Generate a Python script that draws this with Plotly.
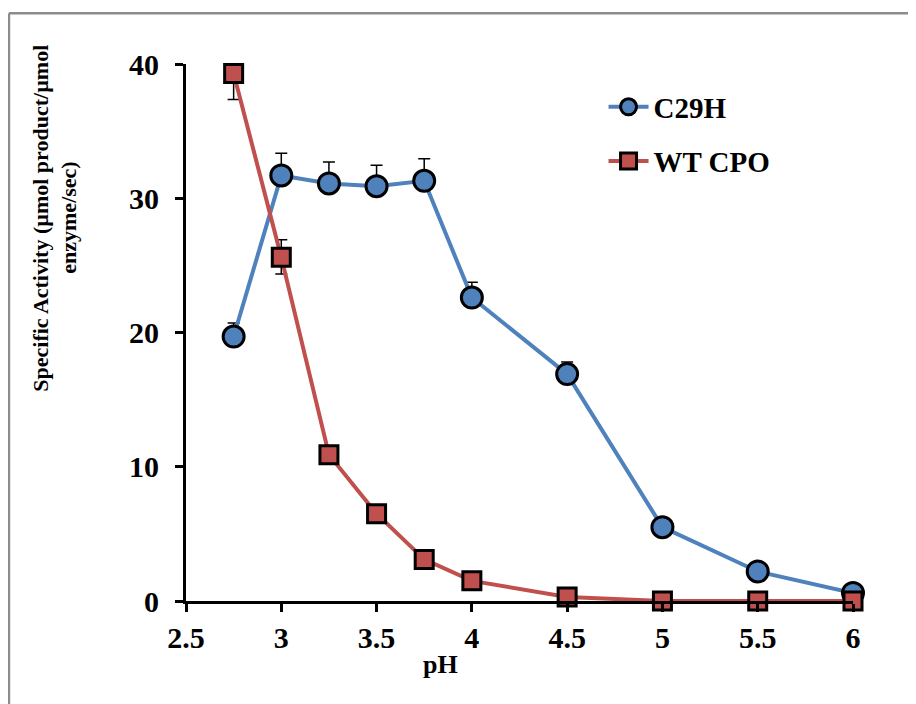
import plotly.graph_objects as go

ph = [2.75, 3, 3.25, 3.5, 3.75, 4, 4.5, 5, 5.5, 6]
c29h = [19.7, 31.7, 31.1, 30.9, 31.3, 22.6, 16.9, 5.5, 2.2, 0.6]
c29h_err = [1.0, 1.65, 1.6, 1.55, 1.65, 1.15, 0.9, 0.3, 0.2, 0.1]
wt = [39.3, 25.6, 10.9, 6.5, 3.1, 1.5, 0.3, 0.0, 0.0, 0.0]
wt_err_plus = [0.0, 1.3, 0.3, 0.3, 0.2, 0.2, 0.1, 0.0, 0.0, 0.0]
wt_err_minus = [1.95, 1.25, 0.3, 0.3, 0.2, 0.2, 0.1, 0.0, 0.0, 0.0]
x_ticks = [2.5, 3, 3.5, 4, 4.5, 5, 5.5, 6]
y_ticks = [0, 10, 20, 30, 40]

FONT = "Liberation Serif"

fig = go.Figure()
fig.add_trace(go.Scatter(
    x=ph, y=c29h, name="C29H", mode="lines+markers",
    line=dict(color="#4F81BD", width=4),
    marker=dict(symbol="circle", size=21, color="#4F81BD",
                line=dict(color="black", width=3)),
    error_y=dict(type="data", array=c29h_err, arrayminus=[0]*len(ph),
                 symmetric=False, color="black", thickness=1.5, width=6),
    cliponaxis=False, legend="legend", showlegend=True,
))
fig.add_trace(go.Scatter(
    x=ph, y=wt, name="WT CPO", mode="lines+markers",
    line=dict(color="#C0504D", width=4),
    marker=dict(symbol="square", size=18, color="#C0504D",
                line=dict(color="black", width=3)),
    error_y=dict(type="data", array=wt_err_plus, arrayminus=wt_err_minus,
                 symmetric=False, color="black", thickness=1.5, width=6),
    cliponaxis=False, legend="legend2", showlegend=True,
))

axis_common = dict(
    showgrid=False, zeroline=False, showline=True, linecolor="black",
    linewidth=3, ticks="outside", ticklen=8, tickwidth=3, tickcolor="black",
    tickfont=dict(family=FONT, size=30, color="black", weight="bold"),
)
fig.update_xaxes(range=[2.5, 6], tickvals=x_ticks, ticklabelstandoff=0, **axis_common)
fig.update_yaxes(range=[0, 40], tickvals=y_ticks, ticklabelstandoff=10, **axis_common)

legfont = dict(family=FONT, size=29, color="black", weight="bold")
title_font = dict(family=FONT, size=22, color="black", weight="bold")
fig.update_layout(
    width=916, height=704,
    margin=dict(l=178, r=71, t=56, b=111),
    paper_bgcolor="white", plot_bgcolor="white",
    showlegend=True,
    legend=dict(x=0.626, y=0.92, xanchor="left", yanchor="middle",
                font=legfont, bgcolor="rgba(0,0,0,0)", itemwidth=40),
    legend2=dict(x=0.626, y=0.819, xanchor="left", yanchor="middle",
                 font=legfont, bgcolor="rgba(0,0,0,0)", itemwidth=40),
    annotations=[
        dict(text="Specific Activity (µmol product/µmol",
             textangle=-90, xref="paper", yref="paper", x=-0.218, y=0.713,
             xanchor="center", yanchor="middle",
             showarrow=False, font=title_font),
        dict(text="enzyme/sec)",
             textangle=-90, xref="paper", yref="paper", x=-0.176, y=0.713,
             xanchor="center", yanchor="middle",
             showarrow=False, font=title_font),
        dict(text="pH", xref="paper", yref="paper", x=0.382, y=-0.119,
             xanchor="center", yanchor="middle",
             showarrow=False, font=dict(family=FONT, size=26, color="black", weight="bold")),
    ],
    shapes=[
        dict(type="line", xref="paper", yref="paper", x0=-0.2654, x1=1.2,
             y0=1.0945, y1=1.0945, line=dict(color="#8c8c8c", width=2.5)),
        dict(type="line", xref="paper", yref="paper", x0=-0.2654, x1=-0.2654,
             y0=1.0945, y1=-0.3, line=dict(color="#8c8c8c", width=2.5)),
    ],
)

fig.write_html("out.html")
